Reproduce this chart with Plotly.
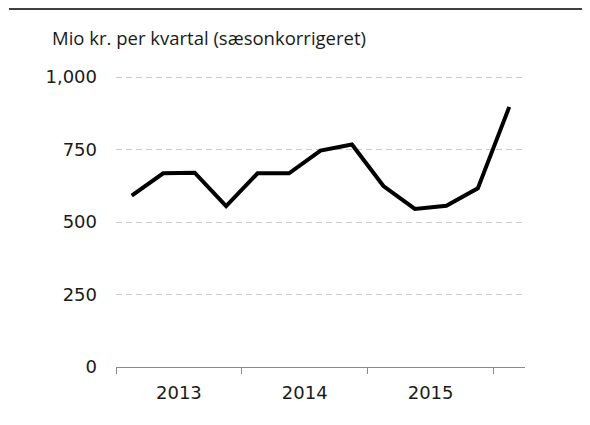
import plotly.graph_objects as go

quarters = ["2013K1", "2013K2", "2013K3", "2013K4",
            "2014K1", "2014K2", "2014K3", "2014K4",
            "2015K1", "2015K2", "2015K3", "2015K4",
            "2016K1"]
values = [591, 668, 670, 555, 668, 668, 746, 767, 624, 545, 556, 616, 897]
year_labels = ["2013", "2014", "2015"]
year_centers = [1.5, 5.5, 9.5]
year_bounds = [-0.5, 3.5, 7.5, 11.5]
y_ticks = [0, 250, 500, 750, 1000]
y_ticktext = ["0", "250", "500", "750", "1,000"]
title_text = "Mio kr. per kvartal (sæsonkorrigeret)"

# page has an 8px body margin; positions below are in figure coordinates
OFF = 8
W, H = 590, 425
YMAX = 1030
L = 116 - OFF
PR = 525 - OFF      # plot right edge
PB = 367 - OFF      # plot bottom edge
px_per_unit = (367 - 77) / 1000.0
T = round(PB - YMAX * px_per_unit)
R = W - PR
B = H - PB
pw = PR - L
ph = PB - T

fig = go.Figure()
fig.add_trace(go.Scatter(
    x=list(range(len(values))), y=values, mode="lines",
    line=dict(color="black", width=4),
    hoverinfo="skip", showlegend=False,
))

tick_font = dict(family="DejaVu Sans", size=18, color="#1a1a1a")

fig.update_layout(
    width=W, height=H,
    margin=dict(l=L, r=R, t=T, b=B),
    paper_bgcolor="white", plot_bgcolor="white",
    xaxis=dict(
        range=[-0.5, 12.5],
        tickmode="array", tickvals=year_centers, ticktext=year_labels,
        ticks="outside", ticklen=9, tickcolor="rgba(0,0,0,0)",
        showgrid=False, zeroline=False,
        showline=True, linecolor="#8a8a8a", linewidth=1.3,
        tickfont=tick_font,
        minor=dict(tickmode="array", tickvals=year_bounds, ticks="outside",
                   ticklen=6, tickcolor="#8a8a8a", tickwidth=1.3, showgrid=False),
        fixedrange=True,
    ),
    yaxis=dict(
        range=[0, (PB - T) / px_per_unit],
        tickmode="array", tickvals=y_ticks, ticktext=y_ticktext,
        ticks="", showline=False, zeroline=False,
        showgrid=True, gridcolor="#c8c8c8", gridwidth=1.3, griddash="6px,4px",
        tickfont=tick_font, ticklabelstandoff=18,
        fixedrange=True,
    ),
)

# top rule across the figure
fig.add_shape(type="line", xref="paper", yref="paper",
              x0=(9 - OFF - L) / pw, x1=(W - L) / pw,
              y0=(PB - (9 - OFF)) / ph, y1=(PB - (9 - OFF)) / ph,
              line=dict(color="black", width=1.5))

fig.add_annotation(
    text=title_text, xref="paper", yref="paper",
    x=(50 - OFF - L) / pw, y=(PB - (37 - OFF)) / ph,
    xanchor="left", yanchor="middle", showarrow=False,
    font=dict(family="Open Sans", size=18.5, color="#1a1a1a"),
)

fig.write_html("out.html")
